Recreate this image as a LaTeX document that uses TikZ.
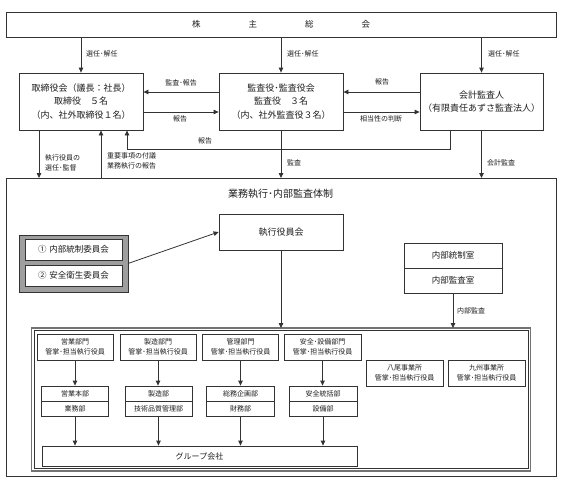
\documentclass[tikz,border=0pt]{standalone}
\usepackage{fontspec}
\setmainfont{Noto Sans CJK JP}
\usetikzlibrary{arrows.meta}
\definecolor{lc}{HTML}{333333}
\definecolor{tc}{HTML}{1E1E1E}
\begin{document}
\begin{tikzpicture}[x=1pt,y=-1pt,
  box/.style={draw=lc, line width=0.8pt, fill=white, inner sep=0pt, align=center, text=tc},
  bigtxt/.style={font=\fontsize{9}{13.5}\selectfont},
  midtxt/.style={font=\fontsize{8.5}{12}\selectfont},
  smalltxt/.style={font=\fontsize{7}{10}\selectfont},
  lbl/.style={font=\fontsize{7}{10}\selectfont, inner sep=0pt, text=tc, align=left},
  arr/.style={draw=lc, line width=0.8pt, -{Triangle[length=5pt,width=4.5pt]}},
  frame/.style={inner sep=0pt, outer sep=0pt}
]
\useasboundingbox (0,0) rectangle (567,482);

% shareholders
\node[box, minimum width=550pt, minimum height=25pt, font=\fontsize{8.5}{10}\selectfont] (gm) at (281,24.5)
  {株\hspace{48pt}主\hspace{48pt}総\hspace{48pt}会};

% top boxes
\node[box, bigtxt, minimum width=124pt, minimum height=57pt] (bod) at (81,101.5)
  {取締役会（議長：社長）\\取締役　５名\\（内、社外取締役１名）};
\node[box, bigtxt, minimum width=124pt, minimum height=57pt] (aud) at (281,101.5)
  {監査役･監査役会\\監査役　３名\\（内、社外監査役３名）};
\node[box, bigtxt, minimum width=123pt, minimum height=57pt] (acc) at (481.5,101.5)
  {会計監査人\\（有限責任あずさ監査法人）};

% election arrows
\draw[arr] (bod.north |- gm.south) -- (bod.north);
\draw[arr] (aud.north |- gm.south) -- (aud.north);
\draw[arr] (acc.north |- gm.south) -- (acc.north);
\node[lbl, anchor=west] (l1) at (86,54) {選任･解任};
\node[lbl, anchor=west] (l2) at (287,54) {選任･解任};
\node[lbl, anchor=west] (l3) at (488,54) {選任･解任};

% horizontal arrows
\draw[arr] ([yshift=9.5pt]aud.west) -- ([yshift=9.5pt]bod.east);
\draw[arr] ([yshift=-10.5pt]bod.east) -- ([yshift=-10.5pt]aud.west);
\draw[arr] ([yshift=9.5pt]acc.west) -- ([yshift=9.5pt]aud.east);
\draw[arr] ([yshift=-10.5pt]aud.east) -- ([yshift=-10.5pt]acc.west);
\node[lbl] (l4) at (181,83) {監査･報告};
\node[lbl] (l5) at (180,118.5) {報告};
\node[lbl] (l6) at (382,82) {報告};
\node[lbl] (l7) at (381,118.5) {相当性の判断};

% report feedback
\draw[arr] ([xshift=-31.5pt]acc.south) -- ++(0,19) -| ([xshift=46pt]bod.south);
\node[lbl] (l8) at (205,141) {報告};

% outer frame
\node[frame, draw=lc, line width=0.8pt, minimum width=550pt, minimum height=298pt] (outer) at (281,327) {};
\node[font=\fontsize{10}{12}\selectfont, text=tc, inner sep=0pt] (title) at (280.5,194) {業務執行･内部監査体制};

% arrows to frame
\draw[arr] ([xshift=-42pt]bod.south) -- ([xshift=-42pt]bod.south |- outer.north);
\draw[arr] ([xshift=20pt]bod.south |- outer.north) -- ([xshift=20pt]bod.south);
\draw[arr] (aud.south) -- (aud.south |- outer.north);
\draw[arr] (acc.south) -- (acc.south |- outer.north);
\node[lbl, anchor=north west] (l9) at (45,154) {執行役員の\\選任･監督};
\node[lbl, anchor=north west] (l10) at (107,152) {重要事項の付議\\業務執行の報告};
\node[lbl, anchor=west] (l11) at (287,163) {監査};
\node[lbl, anchor=west] (l12) at (487,163) {会計監査};

% executive board
\node[box, bigtxt, minimum width=124pt, minimum height=36pt] (exec) at (281,232) {執行役員会};

% committees
\node[frame, draw=lc, line width=0.9pt, fill=black!38, minimum width=109pt, minimum height=57pt] (grp) at (73.5,263.5) {};
\node[box, midtxt, minimum width=97pt, minimum height=21pt] (c1) at (73.5,249.5) {①\hspace{3pt}内部統制委員会};
\node[box, midtxt, minimum width=97pt, minimum height=21pt] (c2) at (73.5,275.5) {②\hspace{3pt}安全衛生委員会};
\draw[arr] (grp.east) -- (exec.west);

% internal control / audit
\node[box, midtxt, minimum width=98pt, minimum height=25pt] (ia) at (453,255.5) {内部統制室};
\node[box, midtxt, minimum width=98pt, minimum height=25pt] (ib) at (453,280.5) {内部監査室};

% inner double frame
\node[frame, draw=black!55, line width=1.1pt, minimum width=499pt, minimum height=143pt] (inner) at (281,399.5) {};
\node[frame, draw=lc, line width=0.6pt, minimum width=494pt, minimum height=138pt] (innerb) at (281,399.5) {};
\draw[arr] (exec.south) -- (exec.south |- inner.north);
\draw[arr] (ib.south) -- (ib.south |- inner.north);
\node[lbl, anchor=west] (l13) at (457,311) {内部監査};

% departments row 1
\node[box, smalltxt, minimum width=76pt, minimum height=26pt] (d1) at (75,347) {営業部門\\管掌･担当執行役員};
\node[box, smalltxt, minimum width=76pt, minimum height=26pt] (d2) at (158,347) {製造部門\\管掌･担当執行役員};
\node[box, smalltxt, minimum width=76pt, minimum height=26pt] (d3) at (240.5,347) {管理部門\\管掌･担当執行役員};
\node[box, smalltxt, minimum width=77pt, minimum height=26pt] (d4) at (322.5,347) {安全･設備部門\\管掌･担当執行役員};
\node[box, smalltxt, minimum width=77pt, minimum height=26pt] (d5) at (404.5,373) {八尾事業所\\管掌･担当執行役員};
\node[box, smalltxt, minimum width=77pt, minimum height=26pt] (d6) at (486.5,373) {九州事業所\\管掌･担当執行役員};

% departments row 2
\node[box, smalltxt, minimum width=67pt, minimum height=15pt] (e1a) at (75,393.5) {営業本部};
\node[box, smalltxt, minimum width=67pt, minimum height=15pt] (e1b) at (75,408.5) {業務部};
\node[box, smalltxt, minimum width=67pt, minimum height=15pt] (e2a) at (158.5,393.5) {製造部};
\node[box, smalltxt, minimum width=67pt, minimum height=15pt] (e2b) at (158.5,408.5) {技術品質管理部};
\node[box, smalltxt, minimum width=68pt, minimum height=15pt] (e3a) at (240.5,393.5) {総務企画部};
\node[box, smalltxt, minimum width=68pt, minimum height=15pt] (e3b) at (240.5,408.5) {財務部};
\node[box, smalltxt, minimum width=68pt, minimum height=15pt] (e4a) at (323,393.5) {安全統括部};
\node[box, smalltxt, minimum width=68pt, minimum height=15pt] (e4b) at (323,408.5) {設備部};

\draw[arr] (d1.south) -- (e1a.north);
\draw[arr] (d2.south) -- (d2.south |- e2a.north);
\draw[arr] (d3.south) -- (d3.south |- e3a.north);
\draw[arr] (d4.south) -- (d4.south |- e4a.north);

% group companies
\node[box, font=\fontsize{8}{10}\selectfont, minimum width=315pt, minimum height=20pt] (gc) at (199.5,456) {グループ会社};
\draw[arr] (e1b.south) -- (e1b.south |- gc.north);
\draw[arr] (e2b.south) -- (e2b.south |- gc.north);
\draw[arr] (e3b.south) -- (e3b.south |- gc.north);
\draw[arr] (e4b.south) -- (e4b.south |- gc.north);
\end{tikzpicture}
\end{document}
